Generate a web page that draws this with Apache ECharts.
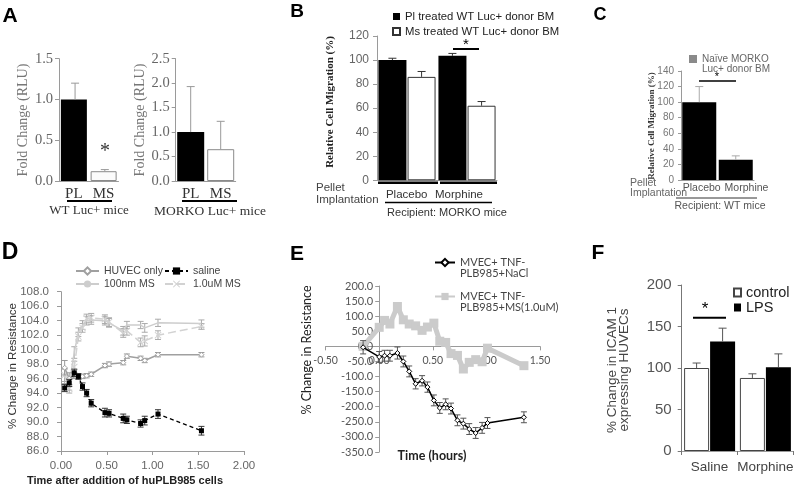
<!DOCTYPE html>
<html><head><meta charset="utf-8">
<script src="https://cdn.jsdelivr.net/npm/echarts@6/dist/echarts.min.js"></script>
<style>html,body{margin:0;padding:0;background:#fff}#c{width:799px;height:487px}</style>
</head><body><div id="c"></div>
<script>
const SANS = 'Liberation Sans, Arial, sans-serif';
const SERIF = 'Liberation Serif, Times New Roman, serif';
const CAL = 'Lato, Open Sans, sans-serif';

// ---- Panel A ----
const aCats = ['PL', 'MS'];
const aWtVals = [1.0, 0.12];
const aWtErr = [0.2, 0.02];
const aMorkoVals = [1.0, 0.65];
const aMorkoErr = [0.93, 0.57];
const aGroups = ['WT Luc+ mice', 'MORKO Luc+ mice'];

// ---- Panel B ----
const bCats = ['Placebo', 'Morphine'];
const bSeriesNames = ['Pl treated WT Luc+ donor BM', 'Ms treated WT Luc+ donor BM'];
const bPlVals = [100, 103.5];
const bPlErr = [1.5, 2.0];
const bMsVals = [86, 62];
const bMsErr = [4.5, 3.5];

// ---- Panel C ----
const cCats = ['Placebo', 'Morphine'];
const cSeriesName = 'Naïve MORKO Luc+ donor BM';
const cLegendLines = ['Naïve MORKO', 'Luc+ donor BM'];
const cVals = [100, 26];
const cErr = [20, 5];

// ---- Panel D ----
const dNames = ['HUVEC only', 'saline', '100nm MS', '1.0uM MS'];
const dTime = [0.04, 0.09, 0.145, 0.19, 0.235, 0.28, 0.33, 0.48, 0.525, 0.68, 0.72, 0.87, 0.915, 1.06, 1.535];
const dHuvec = [97.5, 96.0, 96.4, 96.3, 96.3, 96.4, 96.6, 97.8, 98.0, 98.2, 99.1, 98.8, 98.5, 99.3, 99.3];
const dHuvecErr = [1.0, 0.8, 0.4, 0.3, 0.3, 0.3, 0.3, 0.3, 0.3, 0.3, 0.3, 0.3, 0.3, 0.3, 0.3];
const dSaline = [94.7, 95.4, 96.8, 96.3, 94.9, 94.0, 92.6, 91.3, 91.2, 90.5, 90.3, 89.8, 90.2, 91.1, 88.8];
const dSalineErr = [0.5, 0.5, 0.5, 0.4, 0.5, 0.5, 0.5, 0.6, 0.5, 0.6, 0.5, 0.5, 0.6, 0.6, 0.6];
const d100nm = [96.3, 95.2, 99.6, 102.4, 103.4, 104.0, 104.1, 104.0, 103.7, 102.6, 103.4, 103.4, 103.0, 103.7, 103.6];
const d100nmErr = [1.0, 0.8, 0.8, 0.6, 0.6, 0.6, 0.6, 0.6, 0.6, 0.6, 0.5, 0.5, 0.6, 0.5, 0.5];
const d1uM = [96.5, 94.6, 97.6, 101.8, 103.0, 104.3, 104.4, 104.2, 103.8, 102.3, 102.6, 101.0, 101.2, 102.0, 103.2];
const d1uMErr = [0.9, 0.6, 0.8, 0.6, 0.6, 0.6, 0.6, 0.6, 0.6, 0.6, 0.6, 0.6, 0.7, 0.6, 0.4];

// ---- Panel E ----
const eNames = ['MVEC+ TNF-PLB985+NaCl', 'MVEC+ TNF-PLB985+MS(1.0uM)'];
const eLegendLines = [['MVEC+ TNF-', 'PLB985+NaCl'], ['MVEC+ TNF-', 'PLB985+MS(1.0uM)']];
const eTime = [-0.15, 0.0, 0.05, 0.10, 0.17, 0.225, 0.28, 0.34, 0.40, 0.45, 0.51, 0.565, 0.62, 0.67, 0.73, 0.785, 0.84, 0.90, 0.96, 1.01, 1.35];
const eNaCl = [-3, -35, -31, -31, -22, -50, -83, -124, -114, -135, -179, -204, -192, -206, -245, -256, -274, -287, -270, -254, -235];
const eNaClErr = [22, 18, 18, 18, 20, 18, 18, 17, 17, 17, 18, 18, 18, 18, 18, 18, 18, 18, 18, 18, 18];
const eMS = [0, 63, 86, 74, 132, 88, 74, 68, 53, 64, 77, 17, 13, -24, -30, -75, -53, -44, -51, -6, -64];
const eXRange = [-0.5, 1.5];
const eYRange = [-350, 200];

// ---- Panel F ----
const fCats = ['Saline', 'Morphine'];
const fNames = ['control', 'LPS'];
const fControl = [100, 88];
const fControlErr = [6, 5];
const fLPS = [132, 101];
const fLPSErr = [16, 16];

// ---------- helpers ----------
function grid(l, t, w, h) { return {left: l, top: t, width: w, height: h, containLabel: false, outerBoundsMode: 'none'}; }
function errSeries(xi, yi, data, color, cap, two, z) {
  return {
    type: 'custom', xAxisIndex: xi, yAxisIndex: yi, silent: true, z: z || 5, clip: false,
    encode: {x: 0, y: 1},
    renderItem: function (params, api) {
      const x = api.value(0), v = api.value(1), e = api.value(2), off = api.value(3) || 0;
      const hi = api.coord([x, v + e]);
      const lo = api.coord([x, two ? v - e : v]);
      const cx = hi[0] + (off ? off * api.size([1, 0])[0] : 0);
      const st = {stroke: color, lineWidth: 1};
      const ch = [
        {type: 'line', shape: {x1: cx, y1: hi[1], x2: cx, y2: lo[1]}, style: st},
        {type: 'line', shape: {x1: cx - cap, y1: hi[1], x2: cx + cap, y2: hi[1]}, style: st}
      ];
      if (two) ch.push({type: 'line', shape: {x1: cx - cap, y1: lo[1], x2: cx + cap, y2: lo[1]}, style: st});
      return {type: 'group', children: ch};
    },
    data: data
  };
}
function txt(x, y, text, font, fill, align, rot, extra) {
  return {type: 'text', x: x, y: y, rotation: rot || 0, silent: true,
    style: Object.assign({text: text, font: font, fill: fill || '#222',
      align: align || 'center', verticalAlign: 'middle',
      textAlign: align || 'center', textVerticalAlign: 'middle'}, extra || {})};
}
function ln(x1, y1, x2, y2, w, c) {
  return {type: 'line', silent: true, shape: {x1: x1, y1: y1, x2: x2, y2: y2}, style: {stroke: c || '#000', lineWidth: w}};
}
const grayAxis = {show: true, lineStyle: {color: '#9a9a9a', width: 1}};
const XMARK = 'path://M0,1 L1,0 L5,4 L9,0 L10,1 L6,5 L10,9 L9,10 L5,6 L1,10 L0,9 L4,5 Z';

const G = [
  [59, 58.7, 59.5, 122.3],     // 0 A1
  [175.7, 58.7, 60, 122.3],    // 1 A2
  [377, 36, 120, 144.3],       // 2 B
  [681, 71, 73, 109],          // 3 C
  [61, 291.7, 183, 159.3],     // 4 D
  [325.6, 286, 214.4, 166],    // 5 E
  [681.7, 285, 111.6, 166]     // 6 F
];
// E axes cross at zero: shift axes from grid edges to the zero lines
const eYAxisShift = -(0 - eXRange[0]) / (eXRange[1] - eXRange[0]) * G[5][2];
const eXAxisShift = -(0 - eYRange[0]) / (eYRange[1] - eYRange[0]) * G[5][3];

const option = {
  animation: false,
  backgroundColor: '#fff',
  textStyle: {fontFamily: SANS},
  grid: G.map(g => grid(g[0], g[1], g[2], g[3])),
  xAxis: [
    {type: 'category', gridIndex: 0, data: aCats, axisLine: grayAxis, axisTick: {show: false},
      axisLabel: {fontFamily: SERIF, fontSize: 15, color: '#333', margin: 6, interval: 0}},
    {type: 'category', gridIndex: 1, data: aCats, axisLine: grayAxis, axisTick: {show: false},
      axisLabel: {fontFamily: SERIF, fontSize: 15, color: '#333', margin: 6, interval: 0}},
    {type: 'category', gridIndex: 2, data: bCats, axisLine: grayAxis, axisTick: {show: false}, axisLabel: {show: false}},
    {type: 'category', gridIndex: 3, data: cCats, axisLine: grayAxis, axisTick: {show: false}, axisLabel: {show: false}},
    {type: 'value', gridIndex: 4, min: 0, max: 2, interval: 0.5, axisLine: grayAxis,
      axisTick: {show: true, length: 4, lineStyle: {color: '#9a9a9a'}}, splitLine: {show: false},
      axisLabel: {fontSize: 11.5, color: '#666', margin: 9, formatter: v => v.toFixed(2)}},
    {type: 'value', gridIndex: 5, min: eXRange[0], max: eXRange[1], interval: 0.5,
      offset: eXAxisShift, axisLine: Object.assign({onZero: false}, grayAxis),
      axisTick: {show: true, length: 4, lineStyle: {color: '#9a9a9a'}}, splitLine: {show: false},
      axisLabel: {fontFamily: CAL, fontSize: 10.5, color: '#555', margin: 9, formatter: v => v.toFixed(2)}},
    {type: 'category', gridIndex: 6, data: fCats, axisLine: grayAxis,
      axisTick: {show: true, length: 4, lineStyle: {color: '#777'}},
      axisLabel: {fontSize: 13.5, color: '#444', margin: 9, interval: 0}}
  ],
  yAxis: [
    {type: 'value', gridIndex: 0, min: 0, max: 1.5, interval: 0.5, axisLine: grayAxis,
      axisTick: {show: true, length: 4, lineStyle: {color: '#9a9a9a'}}, splitLine: {show: false},
      axisLabel: {fontFamily: SERIF, fontSize: 14.5, color: '#666', margin: 6, formatter: v => v.toFixed(1)}},
    {type: 'value', gridIndex: 1, min: 0, max: 2.5, interval: 0.5, axisLine: grayAxis,
      axisTick: {show: true, length: 4, lineStyle: {color: '#9a9a9a'}}, splitLine: {show: false},
      axisLabel: {fontFamily: SERIF, fontSize: 14.5, color: '#666', margin: 6, formatter: v => v.toFixed(1)}},
    {type: 'value', gridIndex: 2, min: 0, max: 120, interval: 20, axisLine: grayAxis,
      axisTick: {show: true, length: 4, lineStyle: {color: '#9a9a9a'}}, splitLine: {show: false},
      axisLabel: {fontSize: 12, color: '#666', margin: 8}},
    {type: 'value', gridIndex: 3, min: 0, max: 140, interval: 20, axisLine: grayAxis,
      axisTick: {show: true, length: 3, lineStyle: {color: '#9a9a9a'}}, splitLine: {show: false},
      axisLabel: {fontSize: 10, color: '#777', margin: 7}},
    {type: 'value', gridIndex: 4, min: 86, max: 108, interval: 2, axisLine: grayAxis,
      axisTick: {show: true, length: 4, lineStyle: {color: '#9a9a9a'}}, splitLine: {show: false},
      axisLabel: {fontSize: 11.5, color: '#666', margin: 12, formatter: v => v.toFixed(1)}},
    {type: 'value', gridIndex: 5, min: eYRange[0], max: eYRange[1], interval: 50,
      offset: eYAxisShift, axisLine: Object.assign({onZero: false}, grayAxis),
      axisTick: {show: true, length: 4, lineStyle: {color: '#9a9a9a'}}, splitLine: {show: false},
      axisLabel: {fontFamily: CAL, fontSize: 11, color: '#555', margin: 6, formatter: v => v.toFixed(1)}},
    {type: 'value', gridIndex: 6, min: 0, max: 200, interval: 50, axisLine: {show: true, lineStyle: {color: '#777'}},
      axisTick: {show: true, length: 4, lineStyle: {color: '#777'}}, splitLine: {show: false},
      axisLabel: {fontSize: 15, color: '#555', margin: 10}}
  ],
  legend: [
    {data: bSeriesNames, left: 392, top: 10, padding: 0, orient: 'vertical', icon: 'rect', itemWidth: 7, itemHeight: 7, itemGap: 2,
      textStyle: {fontSize: 11.3, color: '#222', lineHeight: 13, fontFamily: SANS}},
    {data: [{name: cSeriesName, itemStyle: {color: '#8a8a8a', borderColor: '#8a8a8a'}}], left: 689, top: 44, padding: 0,
      orient: 'vertical', icon: 'rect', itemWidth: 8, itemHeight: 8, formatter: () => '\n' + cLegendLines.join('\n'),
      textStyle: {fontSize: 10, color: '#666', lineHeight: 10, fontFamily: SANS}},
    {data: [dNames[0], dNames[2]], left: 75, top: 264.5, padding: 0, orient: 'vertical', itemWidth: 23, itemHeight: 9, itemGap: 0,
      textStyle: {fontSize: 10.5, color: '#444', lineHeight: 13, fontFamily: SANS}},
    {data: [dNames[1], dNames[3]], left: 164, top: 264.5, padding: 0, orient: 'vertical', itemWidth: 23, itemHeight: 9, itemGap: 0,
      textStyle: {fontSize: 10.5, color: '#444', lineHeight: 13, fontFamily: SANS}},
    {data: eNames, left: 434, top: 246, padding: 0, orient: 'vertical', itemWidth: 20, itemHeight: 9, itemGap: 1,
      formatter: name => '\n' + eLegendLines[eNames.indexOf(name)].join('\n'),
      textStyle: {fontSize: 11, color: '#444', lineHeight: 11, fontFamily: CAL}},
    {data: fNames, left: 733, top: 285, padding: 0, orient: 'vertical', icon: 'rect', itemWidth: 7, itemHeight: 8, itemGap: 0,
      textStyle: {fontSize: 14.5, color: '#222', lineHeight: 12, fontFamily: SANS}}
  ],
  series: [
    // A1
    {type: 'bar', xAxisIndex: 0, yAxisIndex: 0, barWidth: 26, silent: true,
      data: aWtVals.map((v, i) => ({value: v, itemStyle: i === 0 ? {color: '#000'} : {color: '#fbfbfb', borderColor: '#8a8a8a', borderWidth: 1}}))},
    errSeries(0, 0, aWtVals.map((v, i) => [i, v, aWtErr[i], 0.04]), '#999', 4, false),
    // A2
    {type: 'bar', xAxisIndex: 1, yAxisIndex: 1, barWidth: 27, silent: true,
      data: aMorkoVals.map((v, i) => ({value: v, itemStyle: i === 0 ? {color: '#000'} : {color: '#fff', borderColor: '#8a8a8a', borderWidth: 1}}))},
    errSeries(1, 1, aMorkoVals.map((v, i) => [i, v, aMorkoErr[i], 0]), '#999', 4, false),
    // B
    {type: 'bar', name: bSeriesNames[0], xAxisIndex: 2, yAxisIndex: 2, barWidth: 28, barGap: '4%', data: bPlVals, itemStyle: {color: '#000'}},
    {type: 'bar', name: bSeriesNames[1], xAxisIndex: 2, yAxisIndex: 2, barWidth: 28, barGap: '4%', data: bMsVals,
      itemStyle: {color: '#fff', borderColor: '#333', borderWidth: 1}},
    errSeries(2, 2, bPlVals.map((v, i) => [i, v, bPlErr[i], -0.243]), '#333', 4, false),
    errSeries(2, 2, bMsVals.map((v, i) => [i, v, bMsErr[i], 0.243]), '#333', 4, false),
    // C
    {type: 'bar', name: cSeriesName, xAxisIndex: 3, yAxisIndex: 3, barWidth: 34, data: cVals, itemStyle: {color: '#000'}},
    errSeries(3, 3, cVals.map((v, i) => [i, v, cErr[i], 0]), '#aaa', 4, false),
    // D
    {type: 'line', name: dNames[0], xAxisIndex: 4, yAxisIndex: 4, data: dTime.map((t, i) => [t, dHuvec[i]]),
      symbol: 'diamond', symbolSize: 5, lineStyle: {color: '#a0a0a0', width: 1.5},
      itemStyle: {color: '#fff', borderColor: '#a0a0a0', borderWidth: 1}, z: 3},
    {type: 'line', name: dNames[1], xAxisIndex: 4, yAxisIndex: 4, data: dTime.map((t, i) => [t, dSaline[i]]),
      symbol: 'rect', symbolSize: 5, lineStyle: {color: '#000', width: 1.3, type: [4, 3]},
      itemStyle: {color: '#000'}, z: 6},
    {type: 'line', name: dNames[2], xAxisIndex: 4, yAxisIndex: 4, data: dTime.map((t, i) => [t, d100nm[i]]),
      symbol: 'none', lineStyle: {color: '#cdcdcd', width: 1.5}, itemStyle: {color: '#cdcdcd'}, z: 2},
    {type: 'line', name: dNames[3], xAxisIndex: 4, yAxisIndex: 4, data: dTime.map((t, i) => [t, d1uM[i]]),
      symbol: XMARK, symbolSize: 7, lineStyle: {color: '#d2d2d2', width: 1.5, type: [8, 4]}, itemStyle: {color: '#d2d2d2'}, z: 2},
    errSeries(4, 4, dTime.map((t, i) => [t, dHuvec[i], dHuvecErr[i]]), '#999', 3, true, 3),
    errSeries(4, 4, dTime.map((t, i) => [t, dSaline[i], dSalineErr[i]]), '#333', 3, true, 6),
    errSeries(4, 4, dTime.map((t, i) => [t, d100nm[i], d100nmErr[i]]), '#aaa', 3, true, 2),
    errSeries(4, 4, dTime.map((t, i) => [t, d1uM[i], d1uMErr[i]]), '#aaa', 3, true, 2),
    // E
    {type: 'line', name: eNames[1], xAxisIndex: 5, yAxisIndex: 5, data: eTime.map((t, i) => [t, eMS[i]]),
      symbol: 'rect', symbolSize: 9, lineStyle: {color: '#cbcbcb', width: 5}, itemStyle: {color: '#cbcbcb'}, z: 2},
    {type: 'line', name: eNames[0], xAxisIndex: 5, yAxisIndex: 5, data: eTime.map((t, i) => [t, eNaCl[i]]),
      symbol: 'diamond', symbolSize: 5, lineStyle: {color: '#000', width: 1.5},
      itemStyle: {color: '#fff', borderColor: '#000', borderWidth: 1}, z: 6},
    errSeries(5, 5, eTime.map((t, i) => [t, eNaCl[i], eNaClErr[i]]), '#555', 3, true, 5),
    // F
    {type: 'bar', name: fNames[0], xAxisIndex: 6, yAxisIndex: 6, barWidth: 25, barGap: '4%', data: fControl,
      itemStyle: {color: '#fff', borderColor: '#444', borderWidth: 1}},
    {type: 'bar', name: fNames[1], xAxisIndex: 6, yAxisIndex: 6, barWidth: 25, barGap: '4%', data: fLPS, itemStyle: {color: '#000'}},
    errSeries(6, 6, fControl.map((v, i) => [i, v, fControlErr[i], -0.233]), '#555', 4, false),
    errSeries(6, 6, fLPS.map((v, i) => [i, v, fLPSErr[i], 0.233]), '#555', 4, false)
  ],
  graphic: {elements: [
    // panel letters
    txt(10, 16, 'A', 'bold 21px ' + SANS, '#000'),
    txt(297, 12, 'B', 'bold 19px ' + SANS, '#000'),
    txt(600, 15, 'C', 'bold 18px ' + SANS, '#000'),
    txt(10, 253, 'D', 'bold 23px ' + SANS, '#000'),
    txt(297, 254, 'E', 'bold 21px ' + SANS, '#000'),
    txt(598, 253, 'F', 'bold 21px ' + SANS, '#000'),
    // A
    txt(23, 120, 'Fold Change (RLU)', '14px ' + SERIF, '#777', 'center', Math.PI / 2),
    txt(140, 120, 'Fold Change (RLU)', '14px ' + SERIF, '#777', 'center', Math.PI / 2),
    ln(67, 201, 112, 201, 2, '#000'),
    ln(182, 201, 237, 201, 2, '#000'),
    txt(89, 211, aGroups[0], '13px ' + SERIF, '#333'),
    txt(210, 211, aGroups[1], '13.5px ' + SERIF, '#333'),
    txt(105, 152, '*', '20px ' + SERIF, '#333'),
    // B
    txt(330, 102, 'Relative Cell Migration (%)', 'bold 11px ' + SERIF, '#222', 'center', Math.PI / 2),
    ln(378, 182.7, 438, 182.7, 2.5, '#000'),
    ln(440, 182.7, 497, 182.7, 2.5, '#000'),
    txt(406.7, 195, bCats[0], '11.5px ' + SANS, '#333'),
    txt(459, 195, bCats[1], '11.5px ' + SANS, '#333'),
    ln(385, 202.5, 492, 202.5, 1.5, '#000'),
    txt(447, 212.5, 'Recipient: MORKO mice', '11px ' + SANS, '#333'),
    txt(316, 188, 'Pellet', '11.5px ' + SANS, '#444', 'left'),
    txt(316, 200, 'Implantation', '11.5px ' + SANS, '#444', 'left'),
    ln(453, 49, 479, 49, 2, '#000'),
    txt(466, 45, '*', '15px ' + SANS, '#000'),
    // C
    txt(652, 126, 'Relative Cell Migration (%)', 'bold 9px ' + SERIF, '#333', 'center', Math.PI / 2),
    txt(701.7, 188, cCats[0], '10.5px ' + SANS, '#555'),
    txt(746.5, 188, cCats[1], '10.5px ' + SANS, '#555'),
    ln(676, 198, 757, 198, 1, '#333'),
    txt(720, 206, 'Recipient: WT mice', '10.5px ' + SANS, '#555'),
    txt(630, 183, 'Pellet', '10.5px ' + SANS, '#666', 'left'),
    txt(630, 193, 'Implantation', '10.5px ' + SANS, '#666', 'left'),
    ln(699, 81, 736, 81, 1.5, '#000'),
    txt(717, 77, '*', '11px ' + SANS, '#000'),
    // D
    txt(13, 366, '% Change in Resistance', '11.5px ' + SANS, '#333', 'center', Math.PI / 2),
    txt(125, 481, 'Time after addition of huPLB985 cells', 'bold 11px ' + SANS, '#222'),
    // E
    txt(307, 350, '% Change in Resistance', '12.5px ' + CAL, '#222', 'center', Math.PI / 2),
    txt(432, 456, 'Time (hours)', 'bold 12.5px ' + CAL, '#222'),
    // F
    txt(618, 370, '% Change in ICAM 1\nexpressing HUVECs', '13.5px ' + SANS, '#444', 'center', Math.PI / 2, {lineHeight: 12}),
    ln(693, 317.7, 726, 317.7, 2, '#000'),
    txt(705, 309, '*', '17px ' + SANS, '#000')
  ]}
};
const chart = echarts.init(document.getElementById('c'), null, {renderer: 'canvas'});
chart.setOption(option);
</script></body></html>
